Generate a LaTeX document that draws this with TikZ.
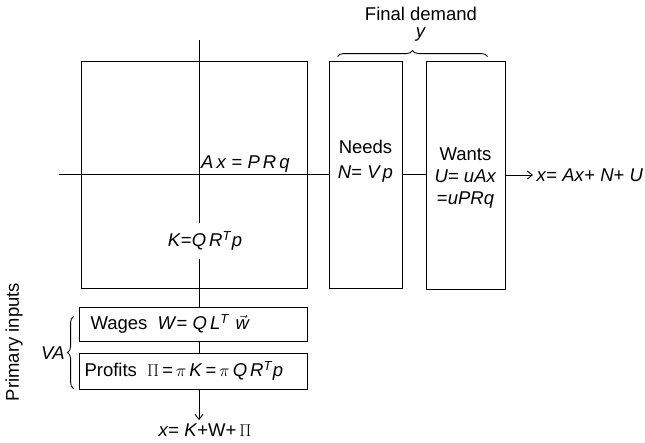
\documentclass[tikz,border=0pt]{standalone}
\usepackage{fontspec}
\setmainfont{Liberation Sans}
\usetikzlibrary{arrows.meta, decorations.pathreplacing, calc, positioning}
\newcommand{\mi}[1]{\textit{#1}}
\newcommand{\wvec}{\ensuremath{\vec{\mbox{\itshape w}}}}

\begin{document}
\begin{tikzpicture}[x=1pt, y=-1pt,
  font=\fontsize{18.5}{21}\selectfont,
  bx/.style={draw, line width=0.9pt, inner sep=0pt},
  ln/.style={line width=0.9pt},
  arr/.style={line width=0.9pt, -{Straight Barb[length=5pt, width=8pt]}},
  brc/.style={decorate, decoration={brace, amplitude=6pt}, line width=0.9pt}]
  \useasboundingbox (0,0) rectangle (645,442);
  % intermediate and final demand
  \node[bx, minimum width=226pt, minimum height=227pt] (io) at (194,174.5) {};
  \node[bx, minimum width=73pt, minimum height=227pt] (needs) at (365.5,174.5) {};
  \node[bx, minimum width=79pt, minimum height=228pt] (wants) at (465.5,175) {};
  \coordinate (top) at (199,40);
  \coordinate (left) at (59,174);
  \node[anchor=base west, inner sep=0pt] (axlbl) at (201,168) {\mi{A\,x} = \mi{P\,R\,q}};
  \node[inner ysep=8pt] (klbl) at (205,241) {\mi{K}=\mi{Q\,R}\textsuperscript{\mi{T}}\mi{p}};
  \node[align=center] (needslbl) at (365.5,161) {Needs\\[4pt] \mi{N}= \mi{V\,p}};
  \node[align=center] (wantslbl) at (465.5,178) {Wants\\[1pt] \mi{U}= \mi{uAx}\\[1pt] =\mi{uPRq}};
  \node[anchor=west] (xout) at (533,175) {\mi{x}= \mi{Ax}+ \mi{N}+ \mi{U}};
  \node[align=center] (fd) at (421,24) {Final demand\\[-4pt] \mi{y}};
  \draw[brc] ($(needs.north west)+(9,-4)$) -- ($(wants.north east)+(-18,-4)$);
  % primary inputs
  \node[bx, minimum width=228pt, minimum height=34pt] (wages) at (193,324) {};
  \node[bx, minimum width=228pt, minimum height=36pt] (profits) at (193,371) {};
  \node[anchor=west] (wageslbl) at (87,324) {Wages\ \ \mi{W}= \mi{Q\,L}\textsuperscript{\mi{T}}\,\,\wvec};
  \node[anchor=west] (proflbl) at (81,371) {Profits\ \ $\Pi$\,=\,$\pi$\,\mi{K}\,=\,$\pi$\,\mi{Q\,R}\textsuperscript{\mi{T}}\mi{p}};
  \node (xsum) at (205,430) {\mi{x}= \mi{K}+W+\,$\Pi$};
  \node (va) at (53,353) {\mi{VA}};
  \node[rotate=90] (prim) at (14,342) {Primary inputs};
  \draw[brc] ($(profits.south west)+(-5,-1)$) -- ($(wages.north west)+(-5,10)$);
  % flows
  \draw[ln] (top) -- (top |- klbl.north);
  \draw[ln] (top |- klbl.south) -- (top |- wages.north);
  \draw[ln] (top |- wages.south) -- (top |- profits.north);
  \draw[arr] (top |- profits.south) -- (top |- xsum.north);
  \draw[ln] (left) -- (left -| needs.west);
  \draw[ln] (needs.east) -- (needs.east -| wants.west);
  \draw[arr] (wants.east) -- (xout.west);
\end{tikzpicture}
\end{document}
